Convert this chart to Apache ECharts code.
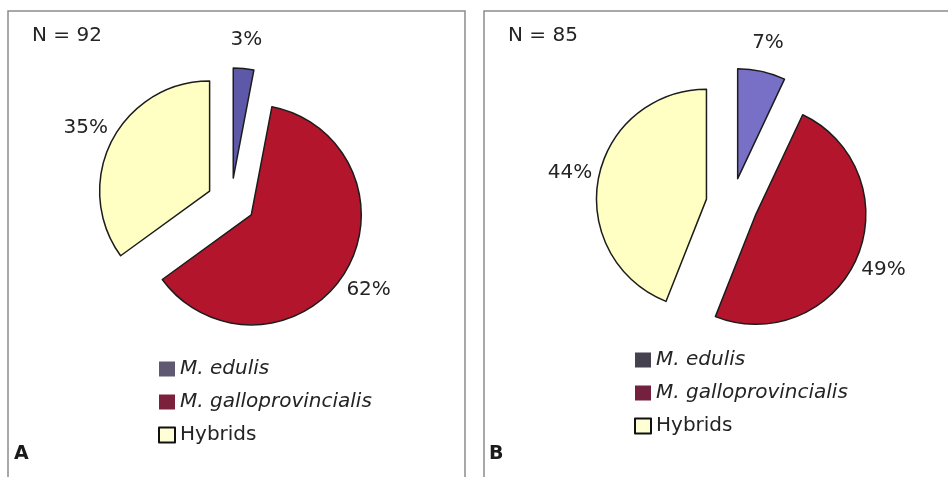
<!DOCTYPE html>
<html>
<head>
<meta charset="utf-8">
<script src="https://cdn.jsdelivr.net/npm/echarts@6/dist/echarts.min.js"></script>
<style>
  html, body { margin: 0; padding: 0; background: #ffffff; }
  #chart { width: 948px; height: 477px; }
</style>
</head>
<body>
<div id="chart"></div>
<script>
// Mussel genotype composition of two samples
const species = ['M. edulis', 'M. galloprovincialis', 'Hybrids'];
const italicName = [true, true, false];
const panelLetters = ['A', 'B'];
const sampleSizes = [92, 85];
const percentA = [3, 62, 35];
const percentB = [7, 49, 44];

const FONT = '"DejaVu Sans", "Liberation Sans", Arial, sans-serif';
const TEXT = '#242424';
const R = 110;

const panels = [
  {
    values: percentA,
    center: [231, 202],
    offset: 24,
    sliceColors: ['#5d59a8', '#b3162c', '#ffffc4'],
    legendColors: ['#5f5a72', '#7c213c', '#ffffd6'],
    legendPos: { left: 158, top: 359 },
    frame: { x: 8, y: 11, width: 457, height: 490 },
    nPos: [32, 36],
    letterPos: [14, 454]
  },
  {
    values: percentB,
    center: [732, 204],
    offset: 26,
    sliceColors: ['#7870c6', '#b3162c', '#ffffc4'],
    legendColors: ['#45414f', '#74203f', '#ffffd6'],
    legendPos: { left: 634, top: 350 },
    frame: { x: 484, y: 11, width: 490, height: 490 },
    nPos: [508, 36],
    letterPos: [489, 454]
  }
];

const series = [];
const legends = [];
const graphics = [];

panels.forEach((p, k) => {
  // exploded slices
  series.push({
    type: 'pie',
    center: p.center,
    radius: [0, R],
    startAngle: 90,
    clockwise: true,
    selectedMode: 'multiple',
    selectedOffset: p.offset,
    avoidLabelOverlap: false,
    silent: true,
    animation: false,
    label: { show: false },
    labelLine: { show: false },
    itemStyle: { borderColor: '#1c1c1c', borderWidth: 1.5 },
    select: { itemStyle: { borderColor: '#1c1c1c', borderWidth: 1.5 } },
    emphasis: { disabled: true },
    data: species.map((name, i) => ({
      name: name,
      value: p.values[i],
      selected: true,
      itemStyle: { color: p.sliceColors[i] }
    }))
  });
  // percentage labels placed on a transparent outer ring
  series.push({
    type: 'pie',
    center: p.center,
    radius: [R + 16, R + 36],
    startAngle: 90,
    clockwise: true,
    selectedMode: 'multiple',
    selectedOffset: p.offset,
    avoidLabelOverlap: false,
    silent: true,
    animation: false,
    itemStyle: { color: 'rgba(0,0,0,0)', borderWidth: 0 },
    select: { itemStyle: { color: 'rgba(0,0,0,0)', borderWidth: 0 } },
    emphasis: { disabled: true },
    labelLine: { show: false },
    label: {
      show: true,
      position: 'inside',
      formatter: (d) => d.value + '%',
      fontFamily: FONT,
      fontSize: 20,
      color: TEXT
    },
    select: { label: { color: TEXT } },
    data: species.map((name, i) => ({ name: name, value: p.values[i], selected: true }))
  });

  legends.push({
    orient: 'vertical',
    left: p.legendPos.left,
    top: p.legendPos.top,
    padding: 0,
    icon: 'rect',
    itemWidth: 16,
    itemHeight: 15,
    itemGap: 13,
    selectedMode: false,
    formatter: (name) => italicName[species.indexOf(name)] ? '{i|' + name + '}' : name,
    textStyle: {
      fontFamily: FONT,
      fontSize: 20,
      lineHeight: 20,
      color: TEXT,
      rich: { i: { fontFamily: FONT, fontSize: 20, lineHeight: 20, fontStyle: 'italic', color: TEXT } }
    },
    data: species.map((name, i) => ({
      name: name,
      itemStyle: {
        color: p.legendColors[i],
        borderColor: i === 2 ? '#111111' : p.legendColors[i],
        borderWidth: i === 2 ? 2 : 0
      }
    }))
  });

  graphics.push({
    type: 'rect',
    shape: p.frame,
    style: { fill: 'none', stroke: '#8c8c8c', lineWidth: 1.5 },
    silent: true
  });
  graphics.push({
    type: 'text',
    x: p.nPos[0],
    y: p.nPos[1],
    style: {
      text: 'N = ' + sampleSizes[k],
      fontFamily: FONT,
      fontSize: 20,
      fill: TEXT,
      verticalAlign: 'middle',
      align: 'left'
    },
    silent: true
  });
  graphics.push({
    type: 'text',
    x: p.letterPos[0],
    y: p.letterPos[1],
    style: {
      text: panelLetters[k],
      fontFamily: FONT,
      fontSize: 19,
      fontWeight: 'bold',
      fill: '#1a1a1a',
      verticalAlign: 'middle',
      align: 'left'
    },
    silent: true
  });
});

const chart = echarts.init(document.getElementById('chart'), null, { renderer: 'canvas' });
chart.setOption({
  animation: false,
  backgroundColor: '#ffffff',
  legend: legends,
  series: series,
  graphic: graphics
});
</script>
</body>
</html>
